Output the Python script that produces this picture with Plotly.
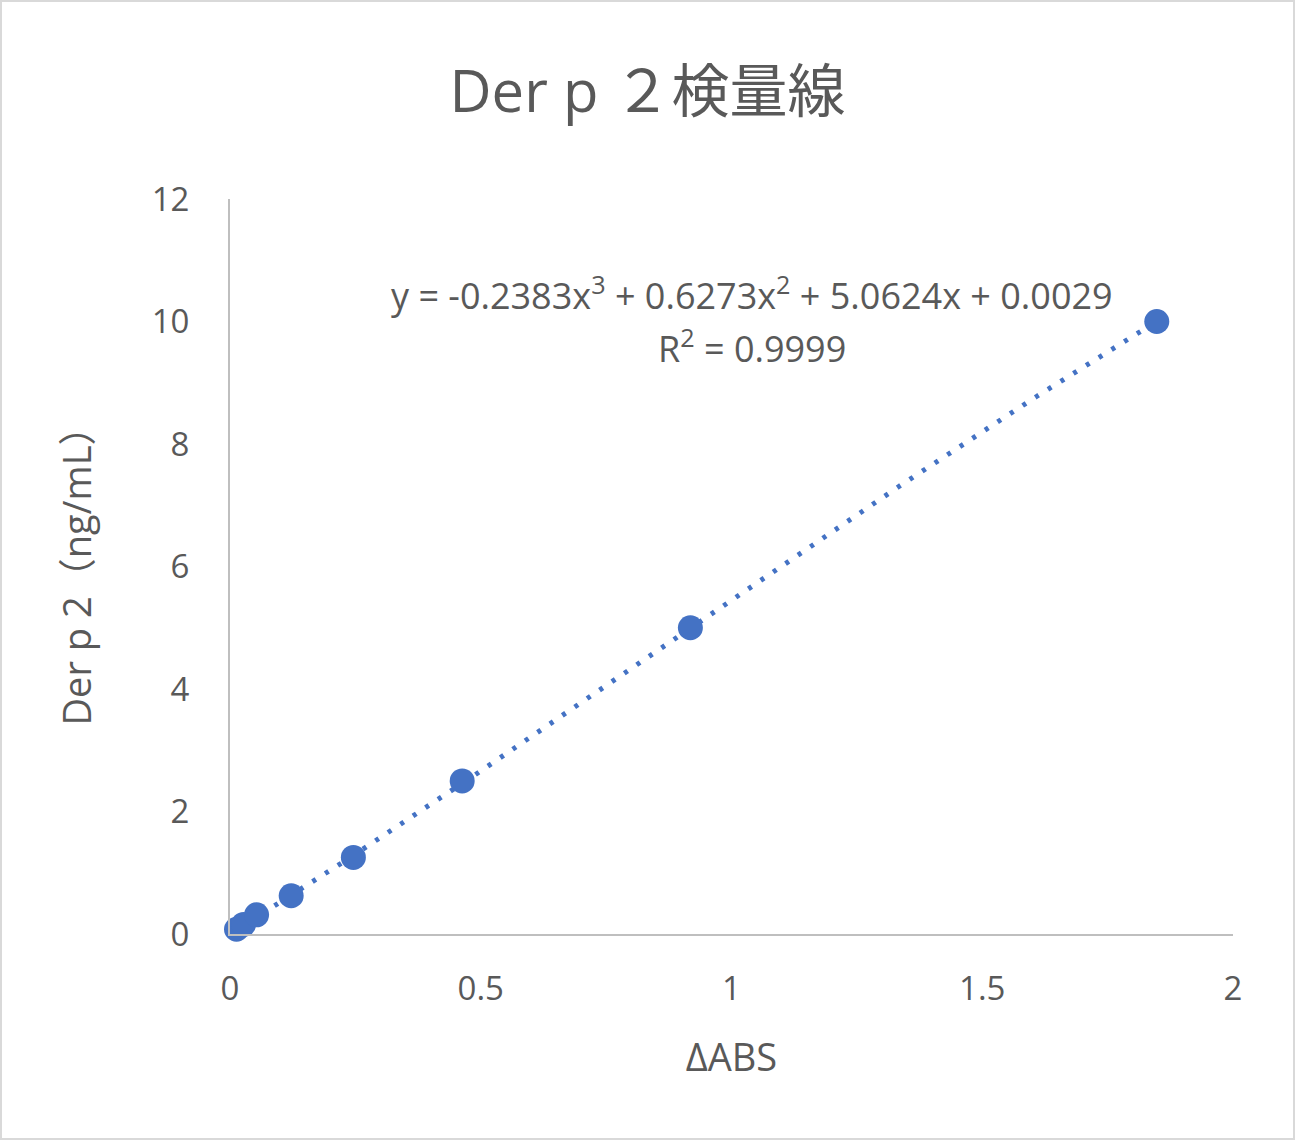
import numpy as np
import plotly.graph_objects as go

# Data
abs_vals = [0.013, 0.027, 0.053, 0.122, 0.246, 0.463, 0.918, 1.848]
conc_vals = [0.078, 0.156, 0.3125, 0.625, 1.25, 2.5, 5, 10]
# Displayed cubic trendline coefficients (a3, a2, a1, a0)
coefs = [-0.2383, 0.6273, 5.0624, 0.0029]
r2_text = "0.9999"
x_ticks = [0, 0.5, 1, 1.5, 2]
y_ticks = [0, 2, 4, 6, 8, 10, 12]

W, H = 1295, 1140
ML, MR, MT, MB = 230, 62, 199, 206
FONT = "Open Sans, Noto Sans CJK JP, sans-serif"
GREY = "#595959"
BLUE = "#4472C4"

xf = np.linspace(min(abs_vals), max(abs_vals), 200)
yf = np.polyval(coefs, xf)

fig = go.Figure()
fig.add_trace(go.Scatter(x=xf, y=yf, mode="lines",
                         line=dict(color=BLUE, width=5, dash="4px,11px"),
                         hoverinfo="skip", showlegend=False, cliponaxis=False))
fig.add_trace(go.Scatter(x=abs_vals, y=conc_vals, mode="markers",
                         marker=dict(color=BLUE, size=25, line=dict(width=0)),
                         showlegend=False, cliponaxis=False))

eq1 = ("y = {:.4f}x<sup>3</sup> + {:.4f}x<sup>2</sup> + {:.4f}x + {:.4f}"
       .format(coefs[0], coefs[1], coefs[2], coefs[3]))
eq2 = "R<sup>2</sup> = {}".format(r2_text)
fig.add_annotation(x=1.04, y=10.45, xref="x", yref="y", text=eq1, showarrow=False,
                   font=dict(family=FONT, size=36, color=GREY), align="center")
fig.add_annotation(x=1.04, y=9.6, xref="x", yref="y", text=eq2, showarrow=False,
                   font=dict(family=FONT, size=36, color=GREY), align="center")

pw, ph = W - ML - MR, H - MT - MB
fig.add_shape(type="rect", xref="paper", yref="paper",
              x0=-(ML - 1) / pw, x1=1 + (MR - 1) / pw,
              y0=-(MB - 1) / ph, y1=1 + (MT - 1) / ph,
              line=dict(color="#D9D9D9", width=2), layer="below")

fig.update_layout(
    width=W, height=H,
    margin=dict(l=ML, r=MR, t=MT, b=MB),
    paper_bgcolor="white", plot_bgcolor="white",
    font=dict(family=FONT, color=GREY),
    title=dict(text="Der p ２検量線", x=0.5, xref="container", xanchor="center",
               y=1 - 92 / H, yanchor="middle",
               font=dict(family=FONT, size=58, color=GREY)),
    xaxis=dict(range=[0, 2], tickvals=x_ticks, ticktext=[str(v) for v in x_ticks],
               showgrid=False, zeroline=False, showline=True, linecolor="#BFBFBF",
               linewidth=2, ticks="", tickfont=dict(size=33, color=GREY),
               ticklabelstandoff=24,
               title=dict(text="ΔABS", font=dict(size=38, color=GREY), standoff=36)),
    yaxis=dict(range=[0, 12], tickvals=y_ticks, ticktext=[str(v) for v in y_ticks],
               showgrid=False, zeroline=False, showline=True, linecolor="#BFBFBF",
               linewidth=2, ticks="", tickfont=dict(size=33, color=GREY),
               ticklabelstandoff=32,
               title=dict(text="Der p 2（ng/mL）", font=dict(size=38, color=GREY), standoff=48)),
)

fig.write_html("out.html")
